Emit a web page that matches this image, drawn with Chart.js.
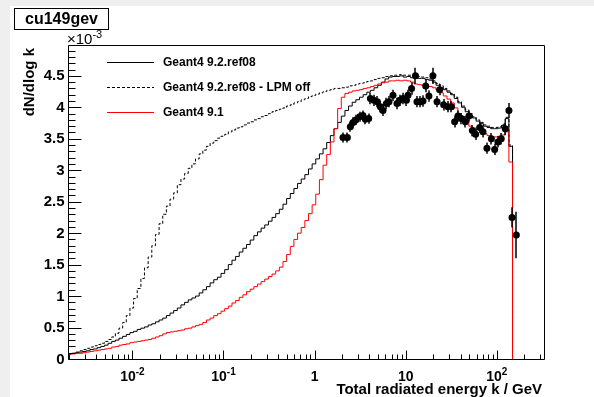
<!DOCTYPE html>
<html><head><meta charset="utf-8">
<script src="https://cdn.jsdelivr.net/npm/chart.js@4.4.1/dist/chart.umd.min.js"></script>
<style>html,body{margin:0;padding:0;background:#fff;}#wrap{width:594px;height:397px;}canvas{display:block;}</style>
</head><body><div id="wrap"><canvas id="c" width="594" height="397"></canvas></div>
<script>
const plotTitle = 'cu149gev';
const xTitle = 'Total radiated energy k / GeV';
const yTitle = 'dN/dlog k';
const yMultiplier = ['\u00d710', '-3'];
const seriesNames = ['Geant4 9.2.ref08', 'Geant4 9.2.ref08 - LPM off', 'Geant4 9.1'];

// histogram binning (log-uniform bins, k in GeV)
const nBins = 122, kLow = 0.001964, kHigh = 149;

// values in units of 1e-3
const ref08 = [0.08,0.09,0.10,0.11,0.12,0.13,0.15,0.16,0.18,0.20,
 0.22,0.25,0.28,0.30,0.33,0.36,0.39,0.42,0.44,0.47,
 0.49,0.51,0.54,0.56,0.59,0.62,0.65,0.69,0.73,0.77,
 0.81,0.86,0.90,0.94,0.97,1.00,1.05,1.10,1.15,1.21,
 1.26,1.30,1.36,1.42,1.50,1.57,1.63,1.70,1.76,1.82,
 1.89,1.96,2.02,2.08,2.13,2.19,2.25,2.31,2.38,2.46,
 2.55,2.63,2.71,2.79,2.86,2.93,3.02,3.10,3.18,3.26,
 3.34,3.44,3.55,3.66,3.76,3.86,3.95,4.02,4.08,4.12,
 4.16,4.20,4.24,4.27,4.31,4.35,4.40,4.45,4.48,4.49,
 4.49,4.50,4.48,4.49,4.47,4.48,4.46,4.46,4.44,4.43,
 4.40,4.35,4.31,4.28,4.24,4.20,4.14,4.07,4.00,3.93,
 3.88,3.83,3.78,3.74,3.70,3.68,3.66,3.66,3.67,3.71,
 3.82,3.38];
const ref08LpmOff = [0.08,0.09,0.11,0.13,0.15,0.17,0.19,0.21,0.23,0.25,
 0.28,0.31,0.35,0.41,0.49,0.58,0.69,0.81,0.96,1.12,
 1.28,1.45,1.62,1.80,1.98,2.15,2.30,2.43,2.54,2.64,
 2.77,2.86,2.95,3.03,3.10,3.18,3.26,3.32,3.38,3.43,
 3.47,3.51,3.54,3.57,3.61,3.64,3.67,3.69,3.72,3.75,
 3.77,3.80,3.82,3.85,3.87,3.90,3.93,3.95,3.97,3.99,
 4.02,4.04,4.07,4.09,4.12,4.14,4.17,4.19,4.21,4.23,
 4.25,4.27,4.28,4.30,4.30,4.31,4.32,4.34,4.35,4.37,
 4.38,4.39,4.41,4.42,4.44,4.46,4.47,4.49,4.50,4.51,
 4.51,4.52,4.51,4.51,4.51,4.50,4.49,4.48,4.47,4.45,
 4.42,4.38,4.34,4.30,4.26,4.22,4.16,4.09,4.02,3.96,
 3.90,3.85,3.80,3.76,3.72,3.70,3.68,3.68,3.69,3.73,
 3.84,3.40];
const g4v91 = [0.08,0.08,0.09,0.09,0.10,0.11,0.12,0.13,0.14,0.15,
 0.16,0.17,0.19,0.20,0.22,0.23,0.24,0.26,0.27,0.28,
 0.29,0.30,0.31,0.33,0.35,0.37,0.40,0.42,0.43,0.44,
 0.45,0.46,0.48,0.49,0.51,0.53,0.55,0.58,0.62,0.65,
 0.69,0.72,0.76,0.80,0.84,0.89,0.93,0.98,1.02,1.07,
 1.11,1.15,1.19,1.23,1.27,1.31,1.35,1.40,1.46,1.55,
 1.66,1.79,1.90,2.00,2.09,2.20,2.31,2.45,2.62,2.85,
 3.08,3.25,3.45,3.66,3.98,4.16,4.22,4.24,4.26,4.27,
 4.28,4.30,4.31,4.33,4.35,4.37,4.39,4.40,4.42,4.42,
 4.43,4.42,4.43,4.42,4.40,4.37,4.36,4.35,4.34,4.33,
 4.31,4.27,4.23,4.18,4.13,4.07,3.99,3.90,3.84,3.79,
 3.70,3.67,3.65,3.61,3.58,3.55,3.53,3.53,3.54,3.56,
 3.61,3.13];

// measured data points
const dataK = [2.05,2.29,2.47,2.64,2.83,3.13,3.40,3.61,3.93,4.10,4.46,4.89,5.28,5.64,6.14,6.56,7.26,8.03,8.59,9.34,
 10.2,10.6,11.6,12.8,13.3,14.5,15.5,16.6,18.0,19.9,22.1,23.6,26.1,29.1,31.8,34.5,37.5,40.9,45.2,49.5,
 54.0,58.6,64.9,70.6,78.0,87.3,94.8,103,112,124,136,147,164];
const dataY = [3.52,3.52,3.69,3.76,3.80,3.85,3.87,3.81,3.82,4.14,4.11,4.09,4.01,3.95,4.06,4.09,4.19,4.06,4.11,4.14,
 4.11,4.19,4.30,4.50,4.09,4.09,4.10,4.34,4.18,4.50,4.09,4.28,4.04,4.01,4.01,3.77,3.86,3.82,3.77,3.86,
 3.63,3.57,3.68,3.61,3.35,3.50,3.33,3.45,3.50,3.66,3.95,2.25,1.97];
const dataErr = [0.08,0.08,0.08,0.08,0.08,0.08,0.08,0.08,0.08,0.09,0.09,0.09,0.09,0.09,0.09,0.09,0.09,0.09,0.09,0.09,
 0.09,0.09,0.10,0.13,0.09,0.09,0.09,0.10,0.09,0.13,0.09,0.09,0.09,0.09,0.09,0.09,0.09,0.09,0.09,0.09,
 0.09,0.09,0.09,0.09,0.09,0.09,0.09,0.09,0.09,0.10,0.12,0.16,0.37];

// axes
const xMin = 0.001964, xMax = 330;
const yMin = 0, yMax = 4.99;
const yTicks = [0,0.5,1,1.5,2,2.5,3,3.5,4,4.5];
const yTickLabels = ['0','0.5','1','1.5','2','2.5','3','3.5','4','4.5'];
const xTicks = [0.01,0.1,1,10,100];
const xTickLabels = [['10','-2'],['10','-1'],['1',''],['10',''],['10','2']];

const FONT = '"Liberation Sans", Arial, Helvetica, sans-serif';
const edges = [];
for (let i = 0; i <= nBins; i++) edges.push(kLow * Math.pow(kHigh / kLow, i / nBins));
function histPoints(vals) {
  const pts = vals.map((v, i) => ({x: edges[i], y: v}));
  pts.push({x: edges[nBins], y: vals[nBins - 1]});
  pts.push({x: edges[nBins], y: 0});
  return pts;
}

const rootStyle = {
  id: 'rootStyle',
  beforeDraw(chart) {
    const ctx = chart.ctx;
    ctx.save();
    ctx.fillStyle = '#ffffff';
    ctx.fillRect(0, 0, chart.width, chart.height);
    ctx.fillStyle = '#efefef';
    ctx.fillRect(0, 0, chart.width, 6);
    ctx.fillRect(0, 0, 10, chart.height);
    ctx.restore();
  },
  afterDatasetsDraw(chart) {
    const ctx = chart.ctx, ys = chart.scales.y;
    const meta = chart.getDatasetMeta(0);
    ctx.save();
    ctx.strokeStyle = '#000'; ctx.lineWidth = 1.5;
    ctx.beginPath();
    meta.data.forEach((pt, i) => {
      const x = Math.round(pt.x);
      ctx.moveTo(x, ys.getPixelForValue(dataY[i] - dataErr[i]));
      ctx.lineTo(x, ys.getPixelForValue(dataY[i] + dataErr[i]));
    });
    ctx.stroke();
    ctx.restore();
  },
  afterDraw(chart) {
    const ctx = chart.ctx, xs = chart.scales.x, ys = chart.scales.y;
    const {left, right, top, bottom} = chart.chartArea;
    const L = Math.round(left) + 0.5, R = Math.round(right) + 0.5, T = Math.round(top) + 0.5, B = Math.round(bottom) + 0.5;
    ctx.save();
    ctx.strokeStyle = '#000'; ctx.lineWidth = 1; ctx.setLineDash([]);
    ctx.beginPath();
    ctx.rect(L, T, R - L, B - T);
    // y ticks
    for (let j = 0; j * 0.1 <= yMax + 1e-9; j++) {
      const y = Math.round(ys.getPixelForValue(j / 10)) + 0.5;
      const len = (j % 5 === 0) ? 13 : 7;
      ctx.moveTo(L, y); ctx.lineTo(L + len, y);
    }
    // x ticks
    for (let e = -3; e <= 2; e++) {
      for (let m = 1; m <= 9; m++) {
        const k = m * Math.pow(10, e);
        if (k < xMin || k > xMax) continue;
        const x = Math.round(xs.getPixelForValue(k)) + 0.5;
        const len = (m === 1) ? 9 : 5;
        ctx.moveTo(x, B); ctx.lineTo(x, B - len);
      }
    }
    ctx.stroke();

    ctx.fillStyle = '#000';
    // y labels
    ctx.font = 'bold 15px ' + FONT;
    ctx.textAlign = 'right'; ctx.textBaseline = 'middle';
    yTicks.forEach((v, i) => ctx.fillText(yTickLabels[i], L - 4, ys.getPixelForValue(v) + 0.5));
    // x labels
    ctx.textBaseline = 'alphabetic';
    xTicks.forEach((v, i) => {
      const [base, exp] = xTickLabels[i];
      ctx.font = 'bold 14px ' + FONT;
      const wb = ctx.measureText(base).width;
      ctx.font = 'bold 10px ' + FONT;
      const we = exp ? ctx.measureText(exp).width : 0;
      const x0 = xs.getPixelForValue(v) - (wb + we) / 2;
      ctx.textAlign = 'left';
      ctx.font = 'bold 14px ' + FONT;
      ctx.fillText(base, x0, 381);
      if (exp) { ctx.font = 'bold 10px ' + FONT; ctx.fillText(exp, x0 + wb, 375); }
    });
    // x title
    ctx.font = 'bold 15px ' + FONT;
    ctx.textAlign = 'right';
    ctx.fillText(xTitle, 542, 394);
    // y title
    ctx.save();
    ctx.translate(34, 48);
    ctx.rotate(-Math.PI / 2);
    ctx.textAlign = 'right';
    ctx.fillText(yTitle, 0, 0);
    ctx.restore();
    // multiplier
    ctx.textAlign = 'left';
    ctx.font = '15px ' + FONT;
    ctx.fillText(yMultiplier[0], 67, 44);
    const wm = ctx.measureText(yMultiplier[0]).width;
    ctx.font = '11px ' + FONT;
    ctx.fillText(yMultiplier[1], 67 + wm, 38);
    // title box
    ctx.fillStyle = '#fff';
    ctx.fillRect(14.5, 8.5, 94, 21);
    ctx.strokeRect(14.5, 8.5, 94, 21);
    ctx.fillStyle = '#000';
    ctx.font = 'bold 16px ' + FONT;
    ctx.textAlign = 'center'; ctx.textBaseline = 'middle';
    ctx.fillText(plotTitle, 61.5, 19.5);
    // legend
    const legY = [62.5, 87.5, 112.5];
    const legStyle = [{c: '#000', d: []}, {c: '#000', d: [3, 2]}, {c: '#ff0000', d: []}];
    ctx.font = 'bold 12px ' + FONT;
    ctx.textAlign = 'left';
    seriesNames.forEach((name, i) => {
      ctx.strokeStyle = legStyle[i].c; ctx.setLineDash(legStyle[i].d);
      ctx.beginPath(); ctx.moveTo(107, legY[i]); ctx.lineTo(154, legY[i]); ctx.stroke();
      ctx.fillStyle = '#000';
      ctx.fillText(name, 163, legY[i]);
    });
    ctx.restore();
  }
};

new Chart(document.getElementById('c'), {
  type: 'line',
  data: {
    datasets: [
      {label: 'data', data: dataK.map((k, i) => ({x: k, y: dataY[i]})), showLine: false,
       pointRadius: 3.5, pointBackgroundColor: '#000', pointBorderColor: '#000', pointBorderWidth: 0},
      {label: seriesNames[2], data: histPoints(g4v91), stepped: true, borderColor: '#ff0000', borderWidth: 1, pointRadius: 0, fill: false},
      {label: seriesNames[0], data: histPoints(ref08), stepped: true, borderColor: '#000', borderWidth: 1, pointRadius: 0, fill: false},
      {label: seriesNames[1], data: histPoints(ref08LpmOff), stepped: true, borderColor: '#000', borderWidth: 1, borderDash: [3, 2], pointRadius: 0, fill: false}
    ]
  },
  options: {
    responsive: false, animation: false, devicePixelRatio: 1,
    layout: {padding: {left: 68, right: 50, top: 45, bottom: 38}},
    plugins: {legend: {display: false}, tooltip: {enabled: false}, title: {display: false}},
    scales: {
      x: {type: 'logarithmic', min: xMin, max: xMax, display: false},
      y: {type: 'linear', min: yMin, max: yMax, display: false}
    }
  },
  plugins: [rootStyle]
});
</script>
</body></html>
